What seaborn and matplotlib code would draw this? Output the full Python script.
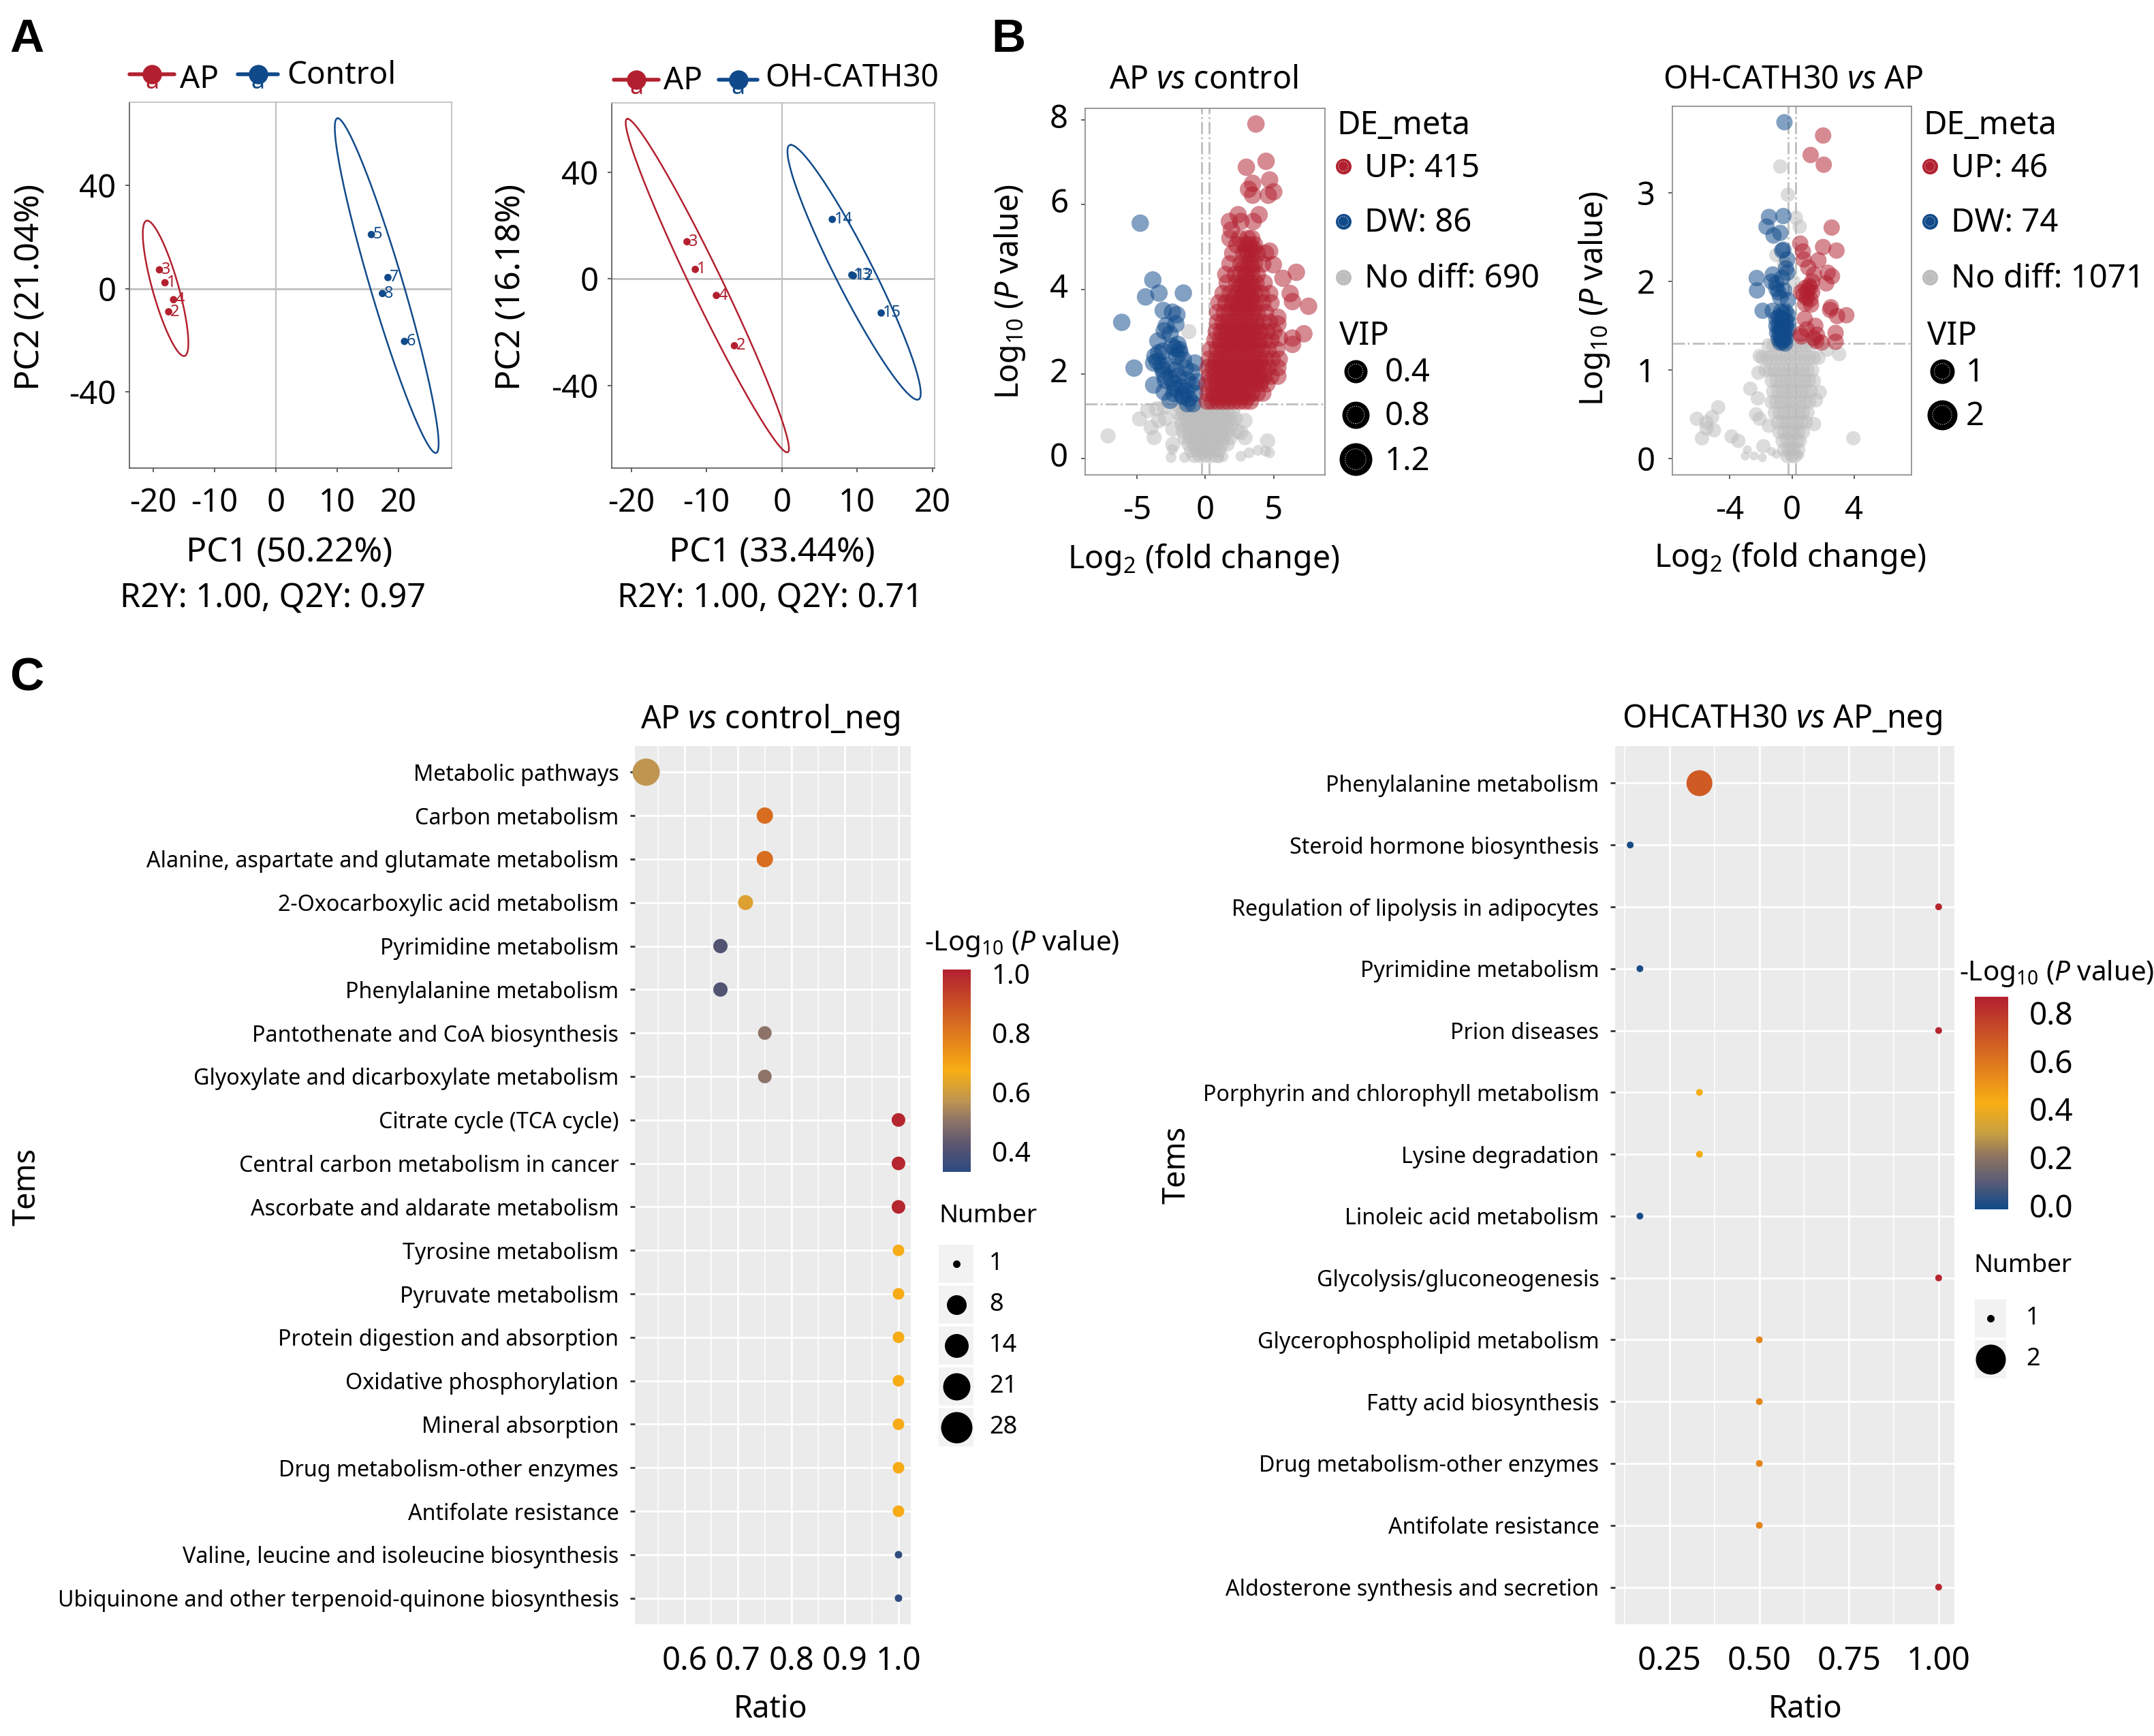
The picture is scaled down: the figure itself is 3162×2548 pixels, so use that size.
import numpy as np
import pandas as pd
import matplotlib
matplotlib.use("Agg")
import matplotlib.pyplot as plt
import seaborn as sns
from matplotlib.colors import LinearSegmentedColormap, Normalize
from matplotlib.cm import ScalarMappable
from matplotlib.transforms import ScaledTranslation

RED = "#B2202F"
BLUE = "#104A8A"
GRAY = "#BDBDBD"
W, H = 3162, 2548

# panel A, scores
pca1_id = ["3", "1", "4", "2", "5", "7", "8", "6"]
pca1_x = [-19, -18.1, -16.7, -17.5, 15.6, 18.3, 17.4, 21]
pca1_y = [7.3, 2.3, -4.3, -9, 21, 4.3, -1.9, -20.5]
pca1_group = ["AP"] * 4 + ["Control"] * 4
# center x, center y, tip dx, tip dy, half width
pca1_ell = {"AP": (-18, 0.1, -3, 26.3, 2.2), "Control": (18.1, 1.15, -8, 65, 2.8)}

pca2_id = ["3", "1", "4", "2", "14", "13", "12", "15"]
pca2_x = [-12.6, -11.5, -8.7, -6.3, 6.7, 9.3, 9.5, 13.2]
pca2_y = [14, 3.6, -6.2, -25.1, 22.4, 1.5, 1.2, -12.8]
pca2_group = ["AP"] * 4 + ["OH-CATH30"] * 4
pca2_ell = {"AP": (-9.9, -2.5, -10.6, 62.7, 2.3), "OH-CATH30": (9.6, 2.5, -8.4, 47.9, 2.8)}

# panel B left, read by rows of log10 p
v1_up_rows = {
    1.36: [0.15, 0.5, 0.9, 1.3, 1.7, 2.1, 2.5, 2.9, 3.3],
    1.46: [0.7, 1.1, 1.5, 1.9, 2.3, 2.7, 3.1],
    1.55: [0.2, 0.6, 1.0, 1.4, 1.8, 2.2, 2.6, 3.0, 3.4, 3.8, 4.2],
    1.77: [0.15, 0.5, 0.9, 1.3, 1.6, 2.0, 2.4, 2.8, 3.2, 3.6, 4.0, 4.5],
    1.86: [0.9, 1.3, 1.7, 2.1, 2.5, 2.9, 3.3, 3.7, 4.1],
    1.95: [0.3, 0.7, 1.1, 1.5, 1.9, 2.3, 2.7, 3.1, 3.5, 3.9, 4.3, 4.8, 5.3],
    2.15: [0.2, 0.6, 1.0, 1.4, 1.8, 2.2, 2.6, 3.0, 3.4, 3.8, 4.2, 4.6, 5.3],
    2.25: [0.8, 1.2, 1.6, 2.0, 2.4, 2.8, 3.2, 3.6, 4.0],
    2.35: [0.3, 0.8, 1.2, 1.6, 2.0, 2.4, 2.8, 3.2, 3.6, 4.0, 4.4, 4.9, 5.4],
    2.58: [0.4, 0.9, 1.3, 1.7, 2.1, 2.5, 2.9, 3.3, 3.7, 4.1, 4.6, 5.2],
    2.68: [1.1, 1.5, 1.9, 2.3, 2.7, 3.1, 3.5, 3.9],
    2.8: [0.7, 1.1, 1.5, 1.9, 2.3, 2.7, 3.1, 3.5, 3.9, 4.3, 4.8],
    3.0: [0.8, 1.2, 1.6, 2.0, 2.4, 2.8, 3.2, 3.6, 4.0, 4.5, 5.0],
    3.1: [1.4, 1.8, 2.2, 2.6, 3.0, 3.4, 3.8],
    3.22: [0.9, 1.3, 1.7, 2.1, 2.5, 2.9, 3.3, 3.7, 4.2, 4.7],
    3.45: [0.9, 1.4, 1.8, 2.2, 2.6, 3.0, 3.4, 3.8, 4.4],
    3.55: [2.0, 2.4, 2.8, 3.2, 3.6],
    3.68: [1.0, 1.5, 2.0, 2.4, 2.8, 3.2, 3.6, 4.2, 4.8],
    3.8: [2.1, 2.6, 3.0, 3.4],
    3.9: [1.3, 1.8, 2.4, 2.8, 3.2, 3.6, 4.1, 4.7],
    4.05: [2.5, 2.85, 3.15, 3.5],
    4.15: [1.6, 2.3, 2.7, 3.0, 3.3, 3.7, 4.3],
    4.35: [1.5, 2.2, 2.6, 3.0, 3.4, 3.8],
    4.5: [2.8, 3.1, 3.4],
    4.6: [1.8, 2.6, 3.0, 3.3, 3.6, 4.2],
    4.85: [2.0, 2.8, 3.1, 3.4, 3.8, 4.4],
    4.95: [3.0, 3.3, 3.55],
    5.05: [2.3, 2.9, 3.2, 3.6],
    5.2: [1.8, 2.5, 3.1, 3.4],
    5.4: [1.9],
    5.6: [1.76, 2.6, 3.5],
    5.76: [2.4, 3.93],
    6.22: [3.46, 4.6],
    6.3: [5.0],
    6.36: [3.16],
    6.5: [3.46],
    6.58: [4.7],
    6.88: [3.0],
    7.02: [4.44],
    7.9: [3.7],
}
v1_up_out_x = [6.65, 5.67, 6.2, 6.37, 7.54, 5.3, 5.3, 7.2, 6.37, 6.37, 5.4, 4.97, 4.7]
v1_up_out_y = [4.4, 4.26, 3.9, 3.71, 3.6, 3.34, 3.18, 2.95, 2.85, 2.7, 2.85, 4.58, 4.9]

v1_dw_x = [-4.75, -3.83, -3.38, -4.36, -1.6, -6.1, -5.2, -3.07, -2.4, -2.07, -2.15, -2.85, -3.0,
           -3.46, -2.57, -2.0, -2.4, -1.9, -3.1, -3.68, -3.5, -3.77, -3.1, -3.0, -2.1, -1.6, -0.75,
           -1.45, -2.15, -1.3, -0.6, -3.77, -2.3, -1.75, -3.0, -2.3, -0.75, -0.9, -2.57, -1.6, -1.2,
           -2.2, -1.85, -1.0, -2.7, -2.0, -1.4, -1.0, -3.4, -3.2, -2.2, -1.7, -1.3, -2.5, -2.9]
v1_dw_y = [5.56, 4.22, 3.91, 3.82, 3.91, 3.22, 2.14, 3.5, 3.46, 3.4, 3.18, 3.14, 3.02,
           2.78, 2.94, 2.7, 2.66, 2.58, 2.54, 2.42, 2.3, 2.26, 2.1, 1.98, 2.42, 2.34, 2.26,
           2.14, 2.1, 1.86, 1.82, 1.74, 1.78, 1.7, 1.58, 1.54, 1.54, 1.3, 1.38, 1.46, 1.42,
           2.6, 2.5, 2.05, 2.2, 1.95, 1.6, 1.75, 2.5, 2.2, 1.65, 1.5, 1.3, 1.9, 1.85]

v1_gray_rows = {
    1.25: [-1.9, -1.5, -1.1, -0.7, -0.3, 0.1, 0.5, 0.9, 1.3],
    1.1: [-2.0, -1.6, -1.2, -0.8, -0.4, 0.0, 0.4, 0.8, 1.2, 1.6, 2.0],
    0.95: [-1.8, -1.4, -1.0, -0.6, -0.2, 0.2, 0.6, 1.0, 1.4, 1.8, 2.2],
    0.8: [-1.7, -1.3, -0.9, -0.5, -0.1, 0.3, 0.7, 1.1, 1.5, 1.9],
    0.65: [-1.6, -1.2, -0.8, -0.4, 0.0, 0.4, 0.8, 1.2, 1.6, 2.3],
    0.5: [-1.5, -1.1, -0.7, -0.3, 0.1, 0.5, 0.9, 1.3, 1.8],
    0.35: [-1.2, -0.8, -0.4, 0.0, 0.4, 0.8, 1.2, 1.6],
    0.2: [-1.0, -0.6, -0.2, 0.2, 0.6, 1.0],
    0.08: [-0.8, -0.4, 0.0, 0.4, 0.8],
}
v1_gray_out_x = [-7.1, -4.8, -4.2, -3.55, -3.95, -3.74, -3.0, -2.37, -2.37, -3.4, -2.9, 2.9, 2.6, 2.9, -1.2, 0.2, 4.55]
v1_gray_out_y = [0.54, 0.94, 1.14, 1.18, 0.74, 0.5, 1.22, 0.7, 0.34, 0.9, 0.95, 0.9, 0.62, 0.5, 3.0, 2.2, 0.42]
v1_gray_small_x = [-2.5, -1.5, 4.4, 4.7, 3.85, 3.2, 2.6, -2.4, 1.3, 1.0]
v1_gray_small_y = [0.03, 0.03, 0.18, 0.14, 0.2, 0.14, 0.06, 0.22, 0.05, 0.02]

# panel B right
v2_up_x = [2.0, 1.2, 2.04, 2.55, 0.53, 2.0, 0.7, 2.86, 0.75, 1.7, 1.05, 1.42, 2.3, 2.57, 2.2, 1.3, 0.87,
           1.18, 0.58, 0.95, 1.18, 1.23, 2.5, 2.9, 3.49, 0.82, 1.5, 0.58, 2.8, 2.8, 1.4, 1.9, 0.95, 1.6,
           1.0, 0.75, 1.1, 0.85, 1.3, 0.6, 2.45, 1.55]
v2_up_y = [3.65, 3.43, 3.32, 2.61, 2.43, 2.39, 2.34, 2.35, 2.25, 2.24, 2.16, 2.08, 2.1, 2.06, 1.98, 2.0, 1.93,
           1.93, 1.88, 1.82, 1.8, 1.74, 1.71, 1.61, 1.62, 1.58, 1.5, 1.41, 1.42, 1.32, 1.36, 1.31, 1.46, 1.4,
           1.9, 1.85, 1.95, 1.75, 1.88, 1.38, 1.68, 1.33]
v2_dw_x = [-0.48, -0.55, -1.47, -1.63, -0.75, -1.18, -0.63, -0.3, -2.26, -2.24, -1.23, -0.38, -0.63, -1.0,
           -0.5, -0.87, -0.75, -0.26, -1.88, -1.23, -0.7, -0.55, -0.4, -0.25, -1.0, -0.85, -0.7, -0.55, -0.4,
           -0.25, -1.0, -0.85, -0.7, -0.55, -0.4, -0.25, -0.95, -0.8, -0.65, -0.5, -0.35, -0.85, -0.7, -0.55,
           -0.4, -0.75, -0.6, -0.45, -1.3, -1.0, -0.55, -0.3]
v2_dw_y = [3.8, 2.74, 2.73, 2.62, 2.55, 2.52, 2.35, 2.25, 2.04, 1.9, 2.08, 2.15, 2.04, 1.98,
           1.9, 1.88, 1.82, 1.79, 1.67, 1.67, 1.66, 1.64, 1.66, 1.62, 1.58, 1.6, 1.58, 1.55, 1.56,
           1.54, 1.5, 1.5, 1.48, 1.46, 1.5, 1.46, 1.42, 1.42, 1.44, 1.4, 1.42, 1.35, 1.36, 1.34,
           1.36, 1.31, 1.32, 1.3, 2.0, 1.92, 2.36, 2.1]
v2_gray_rows = {
    1.28: [-1.5, -1.2, -0.9, -0.6, -0.3, 0.0, 0.3, 0.6, 0.9, 1.2],
    1.14: [-1.9, -1.6, -1.3, -1.0, -0.7, -0.4, -0.1, 0.2, 0.5, 0.8, 1.1, 1.4, 1.7],
    1.0: [-1.7, -1.4, -1.1, -0.8, -0.5, -0.2, 0.1, 0.4, 0.7, 1.0, 1.3],
    0.88: [-1.3, -1.0, -0.7, -0.4, -0.1, 0.2, 0.5, 0.8, 1.1, 1.4],
    0.76: [-1.2, -0.9, -0.6, -0.3, 0.0, 0.3, 0.6, 0.9, 1.2],
    0.64: [-1.3, -1.0, -0.7, -0.4, -0.1, 0.2, 0.5, 0.8, 1.1],
    0.52: [-1.1, -0.8, -0.5, -0.2, 0.1, 0.4, 0.7, 1.0],
    0.41: [-0.9, -0.6, -0.3, 0.0, 0.3, 0.6, 0.9],
    0.3: [-0.8, -0.5, -0.2, 0.1, 0.4, 0.7],
    0.2: [-0.6, -0.3, 0.0, 0.3, 0.5],
    0.1: [-0.5, -0.2, 0.1, 0.4],
    0.03: [-0.3, 0.0, 0.2],
}
v2_gray_out_x = [-4.73, -6.1, -5.12, -5.48, -5.48, -5.0, -5.77, -3.87, -3.44, -2.67, -2.19, -2.3, -2.07, -1.47, -1.83,
                 3.94, -0.75, -0.26, 0.26, 0.5, 3.03, 2.26, -2.07, -2.15, 1.42, 1.78, 1.54, -0.5, 0.1, -1.0, 0.9]
v2_gray_out_y = [0.58, 0.45, 0.47, 0.41, 0.34, 0.32, 0.23, 0.25, 0.2, 0.79, 0.68, 0.5, 0.45, 0.37, 0.14,
                 0.23, 3.3, 2.98, 2.72, 2.62, 1.18, 1.23, 1.16, 0.97, 0.39, 0.75, 0.66, 2.2, 2.0, 2.3, 1.8]
v2_gray_small_x = [-2.86, -2.43, -3.0, -1.9, -1.3, -1.0, 0.5]
v2_gray_small_y = [0.1, 0.03, 0.03, 0.01, 0.08, 0.05, 0.04]

# panel C
c1_terms = ["Metabolic pathways", "Carbon metabolism", "Alanine, aspartate and glutamate metabolism",
            "2-Oxocarboxylic acid metabolism", "Pyrimidine metabolism", "Phenylalanine metabolism",
            "Pantothenate and CoA biosynthesis", "Glyoxylate and dicarboxylate metabolism",
            "Citrate cycle (TCA cycle)", "Central carbon metabolism in cancer", "Ascorbate and aldarate metabolism",
            "Tyrosine metabolism", "Pyruvate metabolism", "Protein digestion and absorption",
            "Oxidative phosphorylation", "Mineral absorption", "Drug metabolism-other enzymes",
            "Antifolate resistance", "Valine, leucine and isoleucine biosynthesis",
            "Ubiquinone and other terpenoid-quinone biosynthesis"]
c1_ratio = [0.528, 0.75, 0.75, 0.714, 0.667, 0.667, 0.75, 0.75, 1, 1, 1, 1, 1, 1, 1, 1, 1, 1, 1, 1]
c1_logp = [0.574, 0.83, 0.83, 0.625, 0.407, 0.407, 0.5, 0.5, 1.0, 1.0, 1.0, 0.68, 0.68, 0.68, 0.68, 0.68, 0.68, 0.68, 0.34, 0.34]
c1_number = [28, 6, 6, 5, 4, 4, 3, 3, 3, 3, 3, 2, 2, 2, 2, 2, 2, 2, 1, 1]
c1_legend = [1, 8, 14, 21, 28]
c1_size_px = {1: 11, 2: 17, 3: 20, 4: 21, 5: 22, 6: 24, 8: 29, 14: 35, 21: 40, 28: 40}
c1_key_px = {1: 11, 8: 29, 14: 35, 21: 40, 28: 46}

c2_terms = ["Phenylalanine metabolism", "Steroid hormone biosynthesis", "Regulation of lipolysis in adipocytes",
            "Pyrimidine metabolism", "Prion diseases", "Porphyrin and chlorophyll metabolism", "Lysine degradation",
            "Linoleic acid metabolism", "Glycolysis/gluconeogenesis", "Glycerophospholipid metabolism",
            "Fatty acid biosynthesis", "Drug metabolism-other enzymes", "Antifolate resistance",
            "Aldosterone synthesis and secretion"]
c2_ratio = [0.333, 0.14, 1, 0.167, 1, 0.333, 0.333, 0.167, 1, 0.5, 0.5, 0.5, 0.5, 1]
c2_logp = [0.687, 0.0, 0.85, 0.0, 0.85, 0.42, 0.42, 0.0, 0.85, 0.55, 0.55, 0.55, 0.55, 0.85]
c2_number = [2, 1, 1, 1, 1, 1, 1, 1, 1, 1, 1, 1, 1, 1]
c2_size_px = {1: 10, 2: 38}
c2_key_px = {1: 11, 2: 44}

sns.set_theme(style="white")
plt.rcParams["font.family"] = ["Noto Sans", "DejaVu Sans"]
plt.rcParams["mathtext.fontset"] = "custom"
plt.rcParams["mathtext.rm"] = "Noto Sans"
plt.rcParams["mathtext.it"] = "Noto Sans:italic"
plt.rcParams["axes.unicode_minus"] = False
plt.rcParams["text.color"] = "black"
plt.rcParams["axes.labelcolor"] = "black"
plt.rcParams["xtick.color"] = "black"
plt.rcParams["ytick.color"] = "black"

fig = plt.figure(figsize=(W / 100, H / 100), dpi=100, facecolor="white")
ov = fig.add_axes([0, 0, 1, 1], zorder=5)
ov.set_xlim(0, W)
ov.set_ylim(H, 0)
ov.axis("off")
ov.patch.set_alpha(0)


def axes_at(l, t, r, b):
    return fig.add_axes([l / W, 1 - b / H, (r - l) / W, (b - t) / H])


def labels(ax, xlabel, xpos, ylabel, ypos, fs):
    ax.set_xlabel(xlabel, fontsize=fs, va="center", ha="center")
    ax.xaxis.set_label_coords(xpos[0] / W, 1 - (xpos[1] + 4) / H, transform=fig.transFigure)
    ax.set_ylabel(ylabel, fontsize=fs, va="center", ha="center")
    ax.yaxis.set_label_coords(ypos[0] / W, 1 - ypos[1] / H, transform=fig.transFigure)


def txt(x, y, s, fs=34, ha="left", **kw):
    ov.text(x, y + 3, s, fontsize=fs, ha=ha, va="center", **kw)


def pca_panel(box, xs, ys, ids, groups, ell, pal, xlim, ylim, yt, xlabel_pos, ylabel_pos, xl):
    ax = axes_at(*box)
    df = pd.DataFrame({"x": xs, "y": ys, "g": groups})
    ax.axhline(0, color="#BEBEBE", lw=2, zorder=1)
    ax.axvline(0, color="#BEBEBE", lw=1.5, zorder=1)
    sns.scatterplot(data=df, x="x", y="y", hue="g", palette=pal, s=60, linewidth=0, legend=False, ax=ax, zorder=3)
    for x, y, s, g in zip(xs, ys, ids, groups):
        ax.annotate(s, (x, y), xytext=(2, 0), textcoords="offset points", color=pal[g], fontsize=17, va="center",
                    stretch="condensed")
    t = np.linspace(0, 2 * np.pi, 200)
    for g, (cx, cy, ux, uy, wd) in ell.items():
        ax.plot(cx + ux * np.cos(t) + wd * np.sin(t), cy + uy * np.cos(t), color=pal[g], lw=1.8, zorder=2)
    ax.set_xlim(*xlim)
    ax.set_ylim(*ylim)
    ax.set_xticks([-20, -10, 0, 10, 20])
    ax.set_yticks(yt)
    ax.tick_params(labelsize=34, length=4, width=1.2, pad=16, bottom=True, left=True, color="#444444")
    ax.tick_params(axis="y", pad=10)
    for s in ax.spines.values():
        s.set_color("#BBBBBB")
        s.set_linewidth(1.2)
    ax.spines["left"].set_color("#555555")
    ax.spines["bottom"].set_color("#555555")
    labels(ax, xl, xlabel_pos, ylabel_pos[2], ylabel_pos[:2], 36)
    return ax


pca_panel((190, 150, 663, 687), pca1_x, pca1_y, pca1_id, pca1_group, pca1_ell,
          {"AP": RED, "Control": BLUE}, (-23.9, 28.7), (-69.7, 72.4), [-40, 0, 40],
          (425, 807), (44, 421, "PC2 (21.04%)"), "PC1 (50.22%)")
pca_panel((898, 151, 1372, 687), pca2_x, pca2_y, pca2_id, pca2_group, pca2_ell,
          {"AP": RED, "OH-CATH30": BLUE}, (-22.6, 20.3), (-71.1, 66.2), [-40, 0, 40],
          (1133, 807), (750, 421, "PC2 (16.18%)"), "PC1 (33.44%)")
txt(401, 876, "R2Y: 1.00, Q2Y: 0.97", fs=35, ha="center")
txt(1131, 876, "R2Y: 1.00, Q2Y: 0.71", fs=35, ha="center")


def pca_key(x0, x1, y, col):
    ov.plot([x0, x1], [y, y], color=col, lw=4)
    ov.scatter([(x0 + x1) / 2], [y], s=420, color=col, linewidth=0)
    ov.text((x0 + x1) / 2, y + 12, "a", color=col, fontsize=26, ha="center", va="center")


pca_key(190, 256, 109, RED)
txt(264, 114, "AP", fs=33)
pca_key(349, 408, 109, BLUE)
txt(421, 108, "Control", fs=33)
pca_key(901, 967, 117, RED)
txt(974, 116, "AP", fs=33)
pca_key(1055, 1112, 117, BLUE)
txt(1123, 112, "OH-CATH30", fs=33)


def rows_to_xy(rows):
    xs, ys = [], []
    for y, row in rows.items():
        xs += row
        ys += [y] * len(row)
    return xs, ys


def volcano(box, parts, sizes, xlim, ylim, xt, yt, title, tpos, xpos, ypos, ylab_up=0):
    ax = axes_at(*box)
    frames = []
    for xs, ys, g, vip in parts:
        frames.append(pd.DataFrame({"x": xs, "y": ys, "g": g, "vip": vip}))
    df = pd.concat(frames, ignore_index=True)
    # threshold lines stay under the points
    ax.axhline(1.3, color="#BEBEBE", lw=2, ls="-.", zorder=0.5)
    ax.axvline(-0.26, color="#BEBEBE", lw=2, ls="-.", zorder=0.5)
    ax.axvline(0.26, color="#BEBEBE", lw=2, ls="-.", zorder=0.5)
    sns.scatterplot(data=df, x="x", y="y", hue="g", palette={"UP": RED, "DW": BLUE, "No": GRAY},
                    size="vip", sizes=sizes, alpha=0.52, edgecolor="none",
                    legend=False, ax=ax)
    ax.set_xlim(*xlim)
    ax.set_ylim(*ylim)
    ax.set_xticks(xt)
    ax.set_yticks(yt)
    ax.tick_params(labelsize=34, length=4, width=1.2, pad=17, bottom=True, left=True, color="#444444")
    ax.tick_params(axis="y", pad=14)
    if ylab_up:
        for lab in ax.get_yticklabels():
            lab.set_transform(lab.get_transform() + ScaledTranslation(0, ylab_up / 100, fig.dpi_scale_trans))
    for s in ax.spines.values():
        s.set_color("#888888")
        s.set_linewidth(1.2)
    labels(ax, r"Log$_{2}$ (fold change)", xpos, r"Log$_{10}$ ($\mathit{P}$ value)", ypos, 33.5)
    txt(tpos[0], tpos[1], title, fs=33.5, ha="center")


ux, uy = rows_to_xy(v1_up_rows)
gx, gy = rows_to_xy(v1_gray_rows)
volcano((1593, 159, 1945, 697),
        [(gx + v1_gray_out_x, gy + v1_gray_out_y, "No", 0.8), (v1_gray_small_x, v1_gray_small_y, "No", 0.3),
         (v1_dw_x, v1_dw_y, "DW", 1.1), (ux + v1_up_out_x, uy + v1_up_out_y, "UP", 1.1)],
        {0.3: 130, 0.8: 260, 1.1: 340},
        (-8.77, 8.74), (-0.38, 8.27), [-5, 0, 5], [0, 2, 4, 6, 8],
        r"AP $\mathit{vs}$ control", (1767, 115), (1767, 817), (1482, 428), ylab_up=6)
gx, gy = rows_to_xy(v2_gray_rows)
volcano((2455, 156, 2806, 697),
        [(gx + v2_gray_out_x, gy + v2_gray_out_y, "No", 0.8), (v2_gray_small_x, v2_gray_small_y, "No", 0.3),
         (v2_dw_x, v2_dw_y, "DW", 1.1), (v2_up_x, v2_up_y, "UP", 1.1)],
        {0.3: 90, 0.8: 230, 1.1: 300},
        (-7.67, 7.67), (-0.184, 3.98), [-4, 0, 4], [0, 1, 2, 3],
        r"OH-CATH30 $\mathit{vs}$ AP", (2632, 115), (2628, 815), (2341, 438))


def dot_key(x, y, col, d):
    ov.scatter([x], [y], s=(d * 0.72) ** 2, color=col, linewidth=0)
    ov.scatter([x], [y], s=(d * 0.46) ** 2, facecolor="none", edgecolor="#DDDDDD", linewidth=0.8, linestyle=":")


def volcano_legend(x_t, x_k, x_l, rows, vip_k, vip_x, vip_l, vip_rows):
    txt(x_t, 181, "DE_meta")
    for (y, col, s) in rows:
        dot_key(x_k, y, col, 23)
        txt(x_l, y, s)
    txt(vip_x, 490, "VIP")
    for (y, d, s) in vip_rows:
        dot_key(vip_k, y, "black", d)
        txt(vip_l, y, s)


volcano_legend(1962, 1972, 2003, [(244, RED, "UP: 415"), (325, BLUE, "DW: 86"), (407, GRAY, "No diff: 690")],
               1990, 1966, 2033, [(545, 34, "0.4"), (609, 40, "0.8"), (674, 48, "1.2")])
volcano_legend(2823, 2833, 2864, [(244, RED, "UP: 46"), (325, BLUE, "DW: 74"), (407, GRAY, "No diff: 1071")],
               2851, 2829, 2886, [(545, 36, "1"), (609, 44, "2")])


def dot_panel(box, terms, ratio, logp, number, size_px, cmap, norm, xlim, xt, xminor, title, tpos, xpos, ypos):
    ax = axes_at(*box)
    df = pd.DataFrame({"Ratio": ratio, "Term": terms, "logp": logp, "Number": number})
    ax.set_facecolor("#EBEBEB")
    ax.set_axisbelow(True)
    sizes = {k: (v * 0.72) ** 2 for k, v in size_px.items()}
    sns.scatterplot(data=df, x="Ratio", y="Term", hue="logp", hue_norm=norm, palette=cmap, size="Number",
                    sizes=sizes, linewidth=0, legend=False, ax=ax, zorder=3, clip_on=False)
    ax.set_xlim(*xlim)
    ax.set_ylim(len(terms) - 0.4, -0.6)
    ax.set_xticks(xt)
    ax.set_xticks(xminor, minor=True)
    ax.grid(True, which="major", color="white", lw=2.0)
    ax.grid(True, which="minor", axis="x", color="white", lw=1.1)
    ax.tick_params(axis="x", labelsize=34, length=0, pad=22, which="both")
    ax.tick_params(axis="y", labelsize=23.2, length=5, width=2, pad=12, left=True, color="#333333")
    sns.despine(ax=ax, left=True, bottom=True)
    labels(ax, "Ratio", xpos, "Tems", ypos, 32.5)
    txt(tpos[0], tpos[1], title, fs=33.5, ha="center")
    return ax


# the colour bars go navy, mauve, tan, yellow, red
cmap1 = LinearSegmentedColormap.from_list("c1", [(0, "#2C4A80"), (0.13, "#5A5570"), (0.25, "#8E7468"),
                                                 (0.35, "#BE9450"), (0.5, "#F8AE14"), (1, RED)])
norm1 = Normalize(0.332, 1.014)
cmap2 = LinearSegmentedColormap.from_list("c2", [(0, BLUE), (0.13, "#5A5C75"), (0.25, "#8E7460"),
                                                 (0.36, "#C8A040"), (0.5, "#F8AE14"), (1, RED)])
norm2 = Normalize(-0.017, 0.868)

dot_panel((932, 1095, 1337, 2384), c1_terms, c1_ratio, c1_logp, c1_number, c1_size_px, cmap1, norm1,
          (0.507, 1.023), [0.6, 0.7, 0.8, 0.9, 1.0], [0.55, 0.65, 0.75, 0.85, 0.95],
          r"AP $\mathit{vs}$ control_neg", (1131, 1053), (1131, 2505), (40, 1742))
dot_panel((2371, 1095, 2869, 2384), c2_terms, c2_ratio, c2_logp, c2_number, c2_size_px, cmap2, norm2,
          (0.098, 1.044), [0.25, 0.5, 0.75, 1.0], [0.125, 0.375, 0.625, 0.875],
          r"OHCATH30 $\mathit{vs}$ AP_neg", (2616, 1053), (2650, 2505), (1728, 1710))


def colorbar(box, cmap, norm, ticks, fs):
    cax = axes_at(*box)
    cb = fig.colorbar(ScalarMappable(norm=norm, cmap=cmap), cax=cax)
    cb.set_ticks(ticks)
    cb.set_ticklabels(["%.1f" % v for v in ticks])
    cb.outline.set_visible(False)
    cax.tick_params(left=True, right=True, direction="in", color="white", length=8, width=1.2,
                    labelsize=fs, pad=22)


colorbar((1384, 1423, 1425, 1720), cmap1, norm1, [0.4, 0.6, 0.8, 1.0], 29)
txt(1357, 1382, r"-Log$_{10}$ ($\mathit{P}$ value)", fs=29)
colorbar((2899, 1463, 2948, 1775), cmap2, norm2, [0.0, 0.2, 0.4, 0.6, 0.8], 33)
txt(2876, 1426, r"-Log$_{10}$ ($\mathit{P}$ value)", fs=29)


def number_legend(x0, x1, ytitle, xt, xl, rows, size_px, kh):
    txt(xt, ytitle, "Number", fs=26.6)
    for y, n in rows:
        ov.fill_between([x0, x1], y - kh / 2, y + kh / 2, color="#F2F2F2", linewidth=0)
        ov.scatter([(x0 + x1) / 2], [y], s=(size_px[n] * 0.72) ** 2, color="black", linewidth=0)
        txt(xl, y - 3, str(n), fs=26)


number_legend(1378, 1429, 1782, 1378, 1452, list(zip([1855, 1915, 1975, 2035, 2095], c1_legend)), c1_key_px, 56)
number_legend(2899, 2945, 1855, 2897, 2974, [(1935, 1), (1995, 2)], c2_key_px, 56)

txt(14, 55, "A", fs=50, fontweight="bold", family="Liberation Sans")
txt(1455, 55, "B", fs=50, fontweight="bold", family="Liberation Sans")
txt(14, 992, "C", fs=50, fontweight="bold", family="Liberation Sans")

fig.savefig("out.png", dpi=100, facecolor="white")
